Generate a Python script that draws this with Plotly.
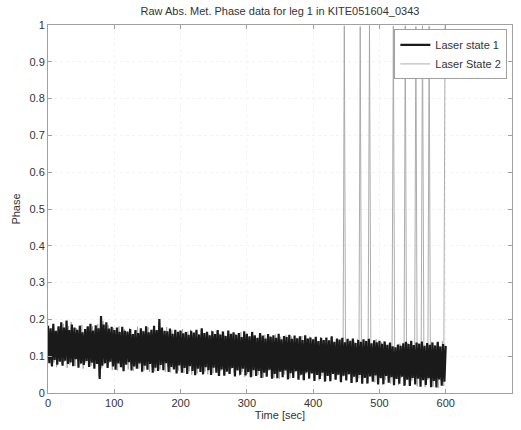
import plotly.graph_objects as go

# Sample clocks (seconds): laser state 1 on even seconds, state 2 on odd seconds
time_state1 = list(range(0, 601, 2))
time_state2 = list(range(1, 600, 2))

# Raw phase, laser state 1
phase_state1 = [
    0.183, 0.081, 0.176, 0.072, 0.188, 0.090, 0.169, 0.077, 0.181, 0.085,
    0.192, 0.074, 0.178, 0.088, 0.197, 0.079, 0.171, 0.083, 0.186, 0.073,
    0.178, 0.092, 0.172, 0.069, 0.183, 0.080, 0.165, 0.076, 0.174, 0.087,
    0.181, 0.071, 0.188, 0.082, 0.170, 0.066, 0.184, 0.079, 0.176, 0.038,
    0.209, 0.074, 0.186, 0.081, 0.192, 0.068, 0.175, 0.085, 0.180, 0.072,
    0.171, 0.063, 0.178, 0.080, 0.166, 0.070, 0.180, 0.059, 0.169, 0.077,
    0.167, 0.084, 0.174, 0.061, 0.160, 0.072, 0.171, 0.066, 0.163, 0.080,
    0.176, 0.058, 0.168, 0.074, 0.181, 0.063, 0.165, 0.079, 0.172, 0.055,
    0.183, 0.069, 0.171, 0.060, 0.201, 0.076, 0.178, 0.062, 0.169, 0.081,
    0.168, 0.057, 0.175, 0.071, 0.161, 0.064, 0.172, 0.053, 0.166, 0.075,
    0.170, 0.055, 0.162, 0.068, 0.166, 0.052, 0.158, 0.073, 0.169, 0.060,
    0.164, 0.048, 0.172, 0.066, 0.159, 0.057, 0.176, 0.051, 0.163, 0.070,
    0.166, 0.062, 0.157, 0.049, 0.168, 0.069, 0.160, 0.055, 0.171, 0.046,
    0.159, 0.064, 0.167, 0.047, 0.155, 0.058, 0.170, 0.052, 0.161, 0.068,
    0.165, 0.045, 0.158, 0.061, 0.163, 0.050, 0.152, 0.066, 0.168, 0.048,
    0.161, 0.057, 0.154, 0.043, 0.166, 0.062, 0.157, 0.046, 0.150, 0.060,
    0.163, 0.041, 0.156, 0.055, 0.148, 0.044, 0.160, 0.063, 0.153, 0.039,
    0.157, 0.052, 0.150, 0.040, 0.161, 0.058, 0.146, 0.043, 0.155, 0.061,
    0.152, 0.037, 0.158, 0.054, 0.147, 0.041, 0.156, 0.059, 0.149, 0.036,
    0.154, 0.050, 0.144, 0.035, 0.157, 0.056, 0.148, 0.039, 0.151, 0.053,
    0.146, 0.033, 0.153, 0.049, 0.141, 0.038, 0.150, 0.055, 0.144, 0.031,
    0.151, 0.046, 0.143, 0.032, 0.154, 0.052, 0.139, 0.036, 0.148, 0.050,
    0.145, 0.029, 0.150, 0.047, 0.138, 0.034, 0.147, 0.051, 0.142, 0.027,
    0.148, 0.044, 0.136, 0.030, 0.144, 0.049, 0.139, 0.025, 0.146, 0.041,
    0.141, 0.026, 0.147, 0.045, 0.135, 0.031, 0.143, 0.048, 0.138, 0.023,
    0.142, 0.040, 0.134, 0.024, 0.140, 0.046, 0.131, 0.028, 0.137, 0.043,
    0.127, 0.021, 0.124, 0.038, 0.132, 0.025, 0.128, 0.044, 0.135, 0.020,
    0.139, 0.036, 0.133, 0.019, 0.142, 0.041, 0.130, 0.023, 0.137, 0.039,
    0.134, 0.017, 0.140, 0.035, 0.128, 0.022, 0.136, 0.040, 0.131, 0.016,
    0.137, 0.033, 0.129, 0.015, 0.139, 0.037, 0.126, 0.020, 0.133, 0.031,
    0.128,
]

# Raw phase, laser state 2 (phase wraps show up as jumps to ~1)
phase_state2 = [
    0.088, 0.172, 0.076, 0.185, 0.083, 0.167, 0.070, 0.179, 0.091, 0.174,
    0.079, 0.188, 0.085, 0.170, 0.068, 0.182, 0.077, 0.193, 0.084, 0.168,
    0.073, 0.176, 0.089, 0.168, 0.078, 0.185, 0.066, 0.171, 0.082, 0.179,
    0.086, 0.166, 0.074, 0.182, 0.069, 0.173, 0.081, 0.187, 0.045, 0.178,
    0.067, 0.196, 0.079, 0.170, 0.071, 0.184, 0.083, 0.165, 0.062, 0.177,
    0.075, 0.168, 0.061, 0.181, 0.078, 0.162, 0.067, 0.174, 0.082, 0.165,
    0.064, 0.177, 0.079, 0.158, 0.060, 0.169, 0.074, 0.180, 0.066, 0.161,
    0.077, 0.170, 0.062, 0.163, 0.072, 0.179, 0.057, 0.167, 0.070, 0.174,
    0.059, 0.168, 0.073, 0.188, 0.064, 0.175, 0.080, 0.163, 0.058, 0.179,
    0.070, 0.160, 0.056, 0.171, 0.068, 0.164, 0.074, 0.158, 0.061, 0.169,
    0.067, 0.174, 0.054, 0.161, 0.070, 0.167, 0.059, 0.172, 0.050, 0.157,
    0.063, 0.168, 0.053, 0.160, 0.067, 0.173, 0.049, 0.162, 0.058, 0.166,
    0.051, 0.159, 0.065, 0.170, 0.054, 0.156, 0.062, 0.167, 0.047, 0.161,
    0.060, 0.168, 0.049, 0.157, 0.063, 0.164, 0.053, 0.153, 0.066, 0.162,
    0.055, 0.160, 0.064, 0.150, 0.047, 0.166, 0.058, 0.155, 0.044, 0.159,
    0.052, 0.152, 0.061, 0.164, 0.045, 0.155, 0.058, 0.148, 0.049, 0.162,
    0.058, 0.151, 0.042, 0.158, 0.054, 0.145, 0.060, 0.155, 0.046, 0.149,
    0.041, 0.159, 0.055, 0.148, 0.039, 0.153, 0.057, 0.144, 0.050, 0.157,
    0.056, 0.146, 0.040, 0.154, 0.051, 0.143, 0.058, 0.150, 0.038, 0.147,
    0.047, 0.155, 0.036, 0.142, 0.052, 0.149, 0.041, 0.153, 0.055, 0.140,
    0.037, 0.148, 0.053, 0.139, 0.034, 0.152, 0.047, 0.143, 0.030, 0.149,
    0.049, 0.140, 0.033, 0.150, 0.054, 0.137, 0.038, 0.146, 0.048, 0.141,
    0.031, 0.146, 0.045, 0.998, 0.036, 0.143, 0.050, 0.137, 0.028, 0.145,
    0.043, 0.139, 0.027, 0.147, 0.040, 0.996, 0.032, 0.135, 0.046, 0.142,
    0.025, 0.144, 0.999, 0.133, 0.042, 0.140, 0.029, 0.146, 0.038, 0.131,
    0.044, 0.138, 0.023, 0.141, 0.036, 0.129, 0.047, 0.136, 0.026, 0.133,
    0.997, 0.122, 0.039, 0.130, 0.022, 0.134, 0.041, 0.127, 0.019, 0.998,
    0.037, 0.136, 0.020, 0.141, 0.034, 0.129, 0.043, 0.996, 0.018, 0.135,
    0.039, 0.132, 0.998, 0.138, 0.016, 0.127, 0.036, 0.997, 0.021, 0.139,
    0.017, 0.130, 0.038, 0.136, 0.014, 0.128, 0.033, 0.140, 0.019, 0.999,
]

x_ticks = [0, 100, 200, 300, 400, 500, 600, 700]
y_ticks = [0, 0.1, 0.2, 0.3, 0.4, 0.5, 0.6, 0.7, 0.8, 0.9, 1]
y_tick_text = ["0", "0.1", "0.2", "0.3", "0.4", "0.5", "0.6", "0.7", "0.8", "0.9", "1"]

FONT = "Liberation Sans, Arial, sans-serif"
AXIS_GREY = "#a0a0a0"
TEXT_GREY = "#333333"

fig = go.Figure()

fig.add_trace(go.Scatter(
    x=time_state2, y=phase_state2, mode="lines", name="Laser State 2",
    line=dict(color="#a4a4a4", width=0.9), legendrank=2,
))
fig.add_trace(go.Scatter(
    x=time_state1, y=phase_state1, mode="lines", name="Laser state 1",
    line=dict(color="#1a1a1a", width=2.2), legendrank=1,
))

axis_common = dict(
    showline=True, linecolor=AXIS_GREY, linewidth=1, mirror="allticks",
    ticks="inside", ticklen=4, tickcolor=AXIS_GREY,
    showgrid=True, gridcolor="#f3f3f3", griddash="dot", gridwidth=1,
    zeroline=False,
    tickfont=dict(family=FONT, size=11, color=TEXT_GREY),
)

fig.update_xaxes(
    range=[0, 700], tickvals=x_ticks,
    title=dict(text="Time [sec]", font=dict(family=FONT, size=11, color=TEXT_GREY), standoff=2),
    **axis_common,
)
fig.update_yaxes(
    range=[0, 1], tickvals=y_ticks, ticktext=y_tick_text,
    title=dict(text="Phase", font=dict(family=FONT, size=11, color=TEXT_GREY), standoff=6),
    **axis_common,
)

fig.update_layout(
    width=521, height=430,
    margin=dict(l=48, r=9, t=25, b=37),
    paper_bgcolor="white", plot_bgcolor="white",
    title=dict(
        text="Raw Abs. Met. Phase data for leg 1 in KITE051604_0343",
        font=dict(family=FONT, size=11, color=TEXT_GREY),
        x=0.5, xref="paper", xanchor="center",
        y=1 - 11 / 430, yref="container", yanchor="middle",
    ),
    legend=dict(
        x=0.99, y=0.988, xanchor="right", yanchor="top",
        bgcolor="white", bordercolor=AXIS_GREY, borderwidth=1,
        font=dict(family=FONT, size=11, color=TEXT_GREY),
        itemwidth=30, tracegroupgap=0,
    ),
    showlegend=True,
)

fig.write_html("out.html")
